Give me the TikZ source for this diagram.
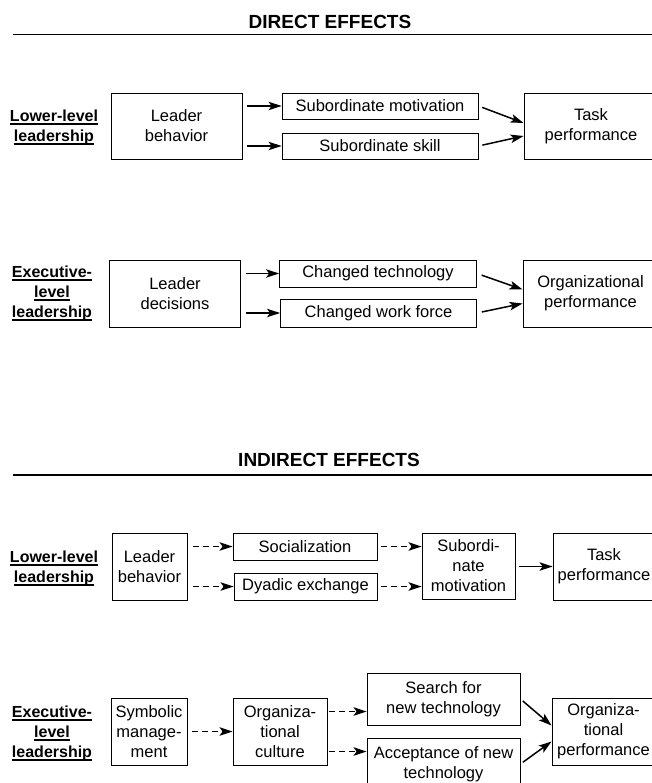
\documentclass[tikz,border=0pt]{standalone}
\usepackage{fontspec}
\setmainfont{Liberation Sans}
\usetikzlibrary{arrows.meta}

\newcommand{\ulbl}[1]{\setbox0=\hbox{#1}\makebox[0pt][l]{\rule[-3.5pt]{\wd0}{1.3pt}}\box0}

\begin{document}
\begin{tikzpicture}[x=1pt,y=-1pt,font=\fontsize{16.5}{20}\selectfont,
  box/.style={draw,line width=0.9pt,inner sep=0pt,align=center},
  lbl/.style={align=center,inner sep=0pt,font=\fontsize{16}{20}\selectfont\bfseries},
  heading/.style={inner sep=0pt,font=\fontsize{19}{22}\selectfont\bfseries},
  solidarr/.style={line width=1.5pt,-{Stealth[length=13pt,width=8.5pt,inset=3pt]}},
  dasharr/.style={solidarr,dash pattern=on 6pt off 4pt}]
\clip (0,0) rectangle (652,783);
% direct effects
\path (330,22) node(head1) [heading] {DIRECT EFFECTS};
\draw[line width=1.3pt] (12.5,34.5) -- (652,34.5);
\path (54,127) node(lab1) [lbl] {\ulbl{Lower-level}\\\ulbl{leadership}};
\path (176.5,126) node(lb1) [box,minimum width=131pt,minimum height=66pt] {Leader\\behavior};
\path (380,106) node(submot1) [box,minimum width=196pt,minimum height=26pt] {Subordinate motivation};
\path (380,146) node(skill1) [box,minimum width=196pt,minimum height=26pt] {Subordinate skill};
\path (591,126) node(task1) [box,minimum width=134pt,minimum height=66pt] {Task\\performance};
\draw[solidarr,shorten <=5pt] (lb1.east |- submot1.west) -- (submot1.west);
\draw[solidarr,shorten <=5pt] (lb1.east |- skill1.west) -- (skill1.west);
\draw[solidarr,shorten <=4pt] (submot1.east) -- ([yshift=3pt]task1.west);
\draw[solidarr,shorten <=4pt] (skill1.east) -- ([yshift=-10pt]task1.west);
\path (52,293) node(lab2) [lbl] {\ulbl{Executive-}\\\ulbl{level}\\\ulbl{leadership}};
\path (175,293.5) node(lb2) [box,minimum width=131pt,minimum height=67pt] {Leader\\decisions};
\path (378,273.5) node(tech2) [box,minimum width=197pt,minimum height=27pt] {Changed technology};
\path (378.5,313) node(force2) [box,minimum width=196pt,minimum height=28pt] {Changed work force};
\path (590.5,293.5) node(orgp2) [box,minimum width=135pt,minimum height=67pt] {Organizational\\performance};
\draw[solidarr,shorten <=5pt] (lb2.east |- tech2.west) -- (tech2.west);
\draw[solidarr,shorten <=5pt] (lb2.east |- force2.west) -- (force2.west);
\draw[solidarr,shorten <=5pt] (tech2.east) -- ([yshift=4pt]orgp2.west);
\draw[solidarr,shorten <=5pt] (force2.east) -- ([yshift=-10pt]orgp2.west);
% indirect effects
\path (329,460) node(head2) [heading] {INDIRECT EFFECTS};
\draw[line width=1.3pt] (12.5,475) -- (652,475);
\path (54,568) node(lab3) [lbl] {\ulbl{Lower-level}\\\ulbl{leadership}};
\path (149.5,566.5) node(lb3) [box,minimum width=75pt,minimum height=67pt] {Leader\\behavior};
\path (305,546.5) node(social3) [box,minimum width=144pt,minimum height=27pt] {Socialization};
\path (305.5,586.5) node(dyad3) [box,minimum width=143pt,minimum height=27pt] {Dyadic exchange};
\path (468.5,566) node(submot3) [box,minimum width=93pt,minimum height=66pt] {Subordi-\\nate\\motivation};
\path (604,566.5) node(task3) [box,minimum width=102pt,minimum height=67pt] {Task\\performance};
\draw[dasharr,shorten <=6pt] (lb3.east |- social3.west) -- (social3.west);
\draw[dasharr,shorten <=6pt] (lb3.east |- dyad3.west) -- (dyad3.west);
\draw[dasharr,shorten <=4pt] (social3.east) -- (submot3.west |- social3.east);
\draw[dasharr,shorten <=4pt] (dyad3.east) -- (submot3.west |- dyad3.east);
\draw[solidarr,shorten <=4pt] (submot3.east |- task3.west) -- (task3.west);
\path (52,733) node(lab4) [lbl] {\ulbl{Executive-}\\\ulbl{level}\\\ulbl{leadership}};
\path (149,731.5) node(symb4) [box,minimum width=76pt,minimum height=67pt] {Symbolic\\manage-\\ment};
\path (280,731.5) node(cult4) [box,minimum width=94pt,minimum height=67pt] {Organiza-\\tional\\culture};
\path (443.5,699) node(search4) [box,minimum width=153pt,minimum height=52pt] {Search for\\new technology};
\path (443.5,764) node(accept4) [box,minimum width=153pt,minimum height=52pt] {Acceptance of new\\technology};
\path (603.5,731.5) node(orgp4) [box,minimum width=103pt,minimum height=67pt] {Organiza-\\tional\\performance};
\coordinate (cultup) at ([yshift=20pt]cult4.east);
\coordinate (cultdown) at ([yshift=-20pt]cult4.east);
\draw[dasharr,shorten <=5pt] (symb4.east) -- (cult4.west);
\draw[dasharr,shorten <=2pt] (cultup) -- (cultup -| search4.west);
\draw[dasharr,shorten <=2pt] (cultdown) -- (cultdown -| accept4.west);
\draw[solidarr,shorten <=3pt] (search4.east) -- ([yshift=6pt]orgp4.west);
\draw[solidarr,shorten <=3pt] (accept4.east) -- ([yshift=-10pt]orgp4.west);
\end{tikzpicture}
\end{document}
